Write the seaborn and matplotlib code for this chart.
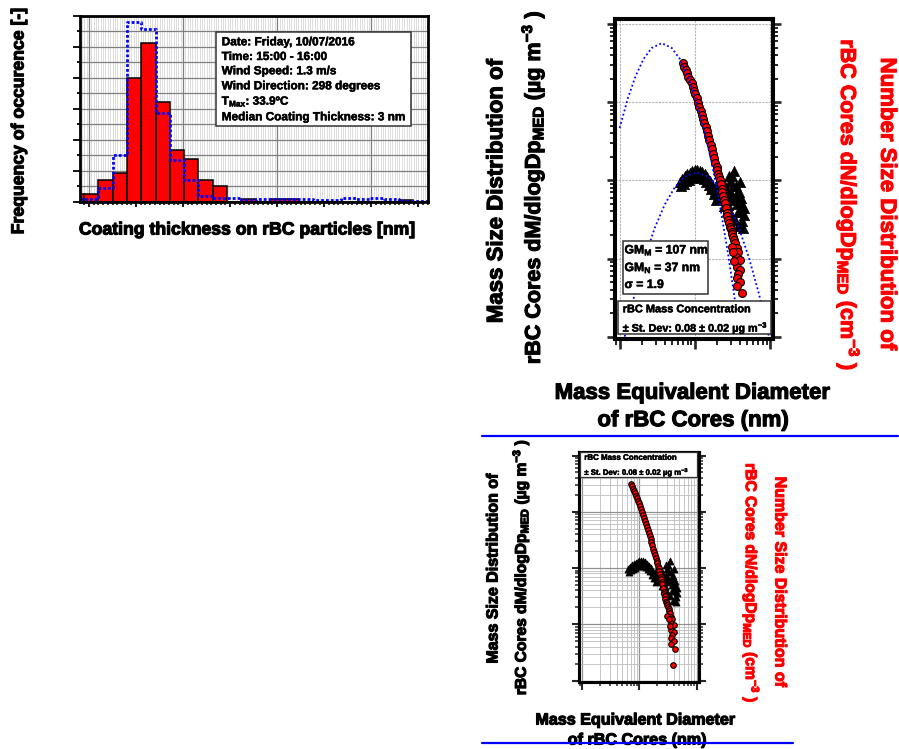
import numpy as np
import matplotlib
matplotlib.use("Agg")
import matplotlib.pyplot as plt
import matplotlib.patheffects as pe
import seaborn as sns
from matplotlib.patches import Rectangle
from matplotlib.lines import Line2D
from matplotlib.ticker import MultipleLocator, LogLocator, NullFormatter

# ---------------- data ----------------
# coating-thickness histogram (pre-binned frequencies)
bin_centers = [-1.29, 0.23, 1.75, 3.27, 4.79, 6.31, 7.83, 9.35, 10.87, 12.39,
               13.91, 15.43, 16.95, 18.47, 19.99, 21.51, 23.03, 24.55, 26.07,
               27.59, 29.11, 30.63, 32.15, 33.67, 35.19]
bin_width = 1.52
freq_red = [0.0047, 0.0047, 0.0138, 0.0183, 0.0797, 0.1026, 0.0644, 0.0336,
            0.0274, 0.0138, 0.0101, 0.0, 0.0018, 0.0, 0.0018, 0.0018, 0.0, 0.0,
            0.0, 0.0, 0.0, 0.0, 0.0, 0.0010, 0.0]
freq_blue = [0.0017, 0.0017, 0.0087, 0.0302, 0.1163, 0.1114, 0.0575, 0.0269,
             0.0140, 0.0039, 0.0022, 0.0026, 0.0011, 0.0017, 0.0015, 0.0015,
             0.0017, 0.0011, 0.0011, 0.0026, 0.0017, 0.0026, 0.0015, 0.0006,
             0.0006]
info_lines = ["Date: Friday, 10/07/2016", "Time: 15:00 - 16:00",
              "Wind Speed: 1.3 m/s", "Wind Direction: 298 degrees",
              r"T$_{Max}$: 33.9ºC", "Median Coating Thickness: 3 nm"]

# number size distribution (red circles): Dp [nm], dN/dlogDp [cm-3]
num_dp = [69.8, 72.66, 75.9, 78.70, 81.9, 86.04, 90.4, 93.47, 97.0, 100.9,
          105.4, 110.0, 114.8, 119.1, 124.0, 128.6, 133.9, 138.9, 144.5, 150.0,
          156.1, 161.9, 168.5, 174.8, 182.0, 188.2, 194.7, 200.1, 205.7, 210.2,
          215.4, 220.8, 227.0, 233.3, 239.9, 245.1, 251.2, 257.5, 264.7, 271.3,
          278.0, 284.9, 292.9, 300.1, 308.6, 316.2, 324.2, 332.0, 341.5, 363.1,
          377.9, 357.5, 398.1, 359.7, 398.1, 374.4, 359.7, 404.3, 363.1, 419.4,
          308.6, 326.2, 336.3, 391.0]
num_dn = [313, 284.0, 257, 233.9, 212, 192.1, 174, 156.4, 141, 125.4,
          112, 98.5, 86.5, 76.95, 68.4, 60.83, 54.1, 48.08, 42.8, 37.44,
          32.8, 28.74, 25.2, 21.93, 19.1, 16.88, 15.0, 13.46, 12.1, 11.05,
          10.1, 8.862, 7.76, 7.007, 6.32, 5.685, 5.10, 4.404, 3.80, 3.449,
          3.12, 2.817, 2.54, 2.36, 2.19, 2.038, 1.89, 1.733, 1.59, 1.37,
          1.22, 1.05, 0.962, 0.790, 0.717, 0.638, 0.562, 0.504, 0.448, 0.361,
          1.42, 1.22, 0.934, 0.189]

# mass size distribution (black triangles): Dp [nm], dM/dlogDp [ug m-3]
mass_dp = [63.1, 68.1, 73.6, 79.4, 85.8, 92.6, 100.0, 108.0, 116.6, 125.9,
           135.9, 146.8, 158.5, 171.1, 184.8, 196.5, 205.7, 215.4, 225.6, 236.3,
           247.4, 259.0, 271.3, 284.0, 297.4, 306.7, 316.2, 326.2, 336.3, 346.7,
           357.5, 368.7, 380.2, 392.0, 404.3, 416.9, 429.9, 443.3, 450.2,
           65.6, 70.8, 76.5, 82.5, 89.1, 96.2, 103.9, 112.2, 121.2, 130.8,
           141.2, 152.5, 164.7, 177.8,
           193.5, 208.9, 232.6, 255.0, 275.4, 302.0, 321.1, 352.1, 374.4, 398.1,
           423.3, 457.1, 288.4]
mass_dm = [0.0954, 0.1042, 0.1122, 0.1190, 0.1243, 0.1299, 0.1338, 0.1358,
           0.1318, 0.1261, 0.1190, 0.1105, 0.0982, 0.0848, 0.0732, 0.0874,
           0.0632, 0.0899, 0.0579, 0.0754, 0.0471, 0.0799, 0.0407, 0.0632,
           0.0954, 0.0372, 0.1138, 0.0562, 0.1318, 0.0312, 0.0848, 0.0500,
           0.0262, 0.0711, 0.0395, 0.0596, 0.0303, 0.0247, 0.0444,
           0.0836, 0.0907, 0.0969, 0.1020, 0.1065, 0.1105, 0.1130, 0.1121,
           0.1081, 0.1027, 0.0962, 0.0875, 0.0767, 0.0662,
           0.0562, 0.0799, 0.1012, 0.0614, 0.0485, 0.0690, 0.0848, 0.0651,
           0.0395, 0.0954, 0.0485, 0.0361, 0.1138]

# lognormal fit curves
fitm_dp = [11.66, 15.85, 21.54, 29.29, 39.81, 54.12, 73.56, 106.3, 153.7,
           208.9, 284.0, 386.1, 524.8, 713.5, 969.8]
fitm_dm = [0.00100, 0.00352, 0.01021, 0.02459, 0.04908, 0.0814, 0.1118, 0.1258,
           0.1118, 0.0814, 0.04908, 0.02459, 0.01021, 0.00352, 0.00100]
fitn_dp = [10.0, 12.79, 16.35, 20.89, 26.71, 36.31, 49.36, 63.10, 80.66, 103.1,
           131.8, 168.5, 215.4, 275.4, 352.1, 398.1]
fitn_dn = [46.7, 110.5, 217.9, 359.3, 493.9, 568.6, 493.9, 359.3, 217.9, 110.5,
           46.7, 16.44, 4.835, 1.183, 0.2423, 0.1021]

# ---------------- style ----------------
sns.set_theme(style="white")
plt.rcParams["font.family"] = ["Liberation Sans", "DejaVu Sans"]
plt.rcParams["font.weight"] = "bold"
plt.rcParams["mathtext.fontset"] = "custom"
plt.rcParams["mathtext.rm"] = "Liberation Sans:bold"
plt.rcParams["mathtext.it"] = "Liberation Sans:bold"
plt.rcParams["mathtext.bf"] = "Liberation Sans:bold"
plt.rcParams["mathtext.sf"] = "Liberation Sans:bold"
plt.rcParams["mathtext.default"] = "rm"

W, H = 899, 749
fig = plt.figure(figsize=(W / 100, H / 100), dpi=100)
fig.patch.set_facecolor("white")


def rect_px(l, t, r, b):
    return [l / W, 1 - b / H, (r - l) / W, (b - t) / H]


def ftxt(x, y, s, size, color="black", rot=0, ha="center", va="center", z=6):
    sw = 0.8 if size >= 11 else 0.35
    fig.text(x / W, 1 - y / H, s, fontsize=size, color=color, rotation=rot,
             ha=ha, va=va, fontweight="bold", zorder=z,
             path_effects=[pe.withStroke(linewidth=sw, foreground=color)])


def fbox(x0, y0, x1, y1, lw=1.1, ec="#333333"):
    fig.add_artist(Rectangle((x0 / W, 1 - y1 / H), (x1 - x0) / W, (y1 - y0) / H,
                             transform=fig.transFigure, facecolor="white",
                             edgecolor=ec, lw=lw, zorder=5))


# ---------------- histogram panel ----------------
axh = fig.add_axes(rect_px(80, 16, 428, 201.7))
edges = [bin_centers[0] - bin_width / 2 + bin_width * i for i in range(len(bin_centers) + 1)]
sns.histplot(x=bin_centers, weights=freq_red, bins=edges, ax=axh, color="#ff0000",
             edgecolor="black", linewidth=1.1, alpha=1.0)
sns.histplot(x=bin_centers, weights=freq_blue, bins=edges, ax=axh, element="step",
             fill=False, color="#0000ff", linewidth=2.0, linestyle=(0, (1, 0.75)))
axh.set_xlim(-0.955, 36.03)
axh.set_ylim(0, 0.12)
axh.set_xlabel("")
axh.set_ylabel("")
axh.set_axisbelow(True)
axh.yaxis.set_major_locator(MultipleLocator(0.02))
axh.yaxis.set_minor_locator(MultipleLocator(0.01))
axh.xaxis.set_major_locator(MultipleLocator(5))
axh.xaxis.set_minor_locator(MultipleLocator(0.5))
axh.grid(True, axis="y", which="both", color="#7f7f7f", lw=0.9)
axh.vlines(np.arange(-0.75, 36.0, 0.25), 0, 1, transform=axh.get_xaxis_transform(),
           colors="#d0d0d0", lw=0.5, zorder=0.3)
axh.vlines([0, 10, 20, 30], 0, 1, transform=axh.get_xaxis_transform(),
           colors="#7f7f7f", lw=0.9, zorder=0.35)
axh.tick_params(axis="both", which="both", direction="out", labelbottom=False,
                labelleft=False, bottom=True, left=True, colors="black")
axh.tick_params(axis="y", which="major", length=4.8, width=1.3)
axh.tick_params(axis="y", which="minor", length=2.4, width=1.3)
axh.tick_params(axis="x", which="major", length=3.6, width=1.3)
axh.tick_params(axis="x", which="minor", length=2.0, width=1.1)
for sp in axh.spines.values():
    sp.set_linewidth(2.0)
    sp.set_color("black")

ftxt(19, 120.6, "Frequency of occurence [-]", 12.7, rot=90)
ftxt(247.5, 230, "Coating thickness on rBC particles [nm]", 12.7)
fbox(216, 32, 411, 126)
for yc, s in zip([42.3, 57, 71.3, 86.3, 100.7, 117.3], info_lines):
    ftxt(221.7, yc, s, 8.5, ha="left")


# ---------------- size distribution panels ----------------
def size_panel(rect, spine_lw, s_tri, s_circ, fits, minor_grid, tl):
    ax = fig.add_axes(rect)
    ax.set_xscale("log")
    ax.set_yscale("log")
    ax2 = ax.twinx()
    ax2.set_yscale("log")
    sns.scatterplot(x=mass_dp, y=mass_dm, ax=ax, marker="^", s=s_tri, color="black",
                    edgecolor="black", linewidth=0.5, legend=False, zorder=3)
    if fits:
        sns.lineplot(x=fitm_dp, y=fitm_dm, ax=ax, color="#0000ff", linewidth=1.3,
                     linestyle=(0, (1, 1.4)), estimator=None, sort=False, zorder=4)
    sns.scatterplot(x=num_dp, y=num_dn, ax=ax2, marker="o", s=s_circ, color="#ff0000",
                    edgecolor="black", linewidth=0.8, legend=False, zorder=3)
    if fits:
        sns.lineplot(x=fitn_dp, y=fitn_dn, ax=ax2, color="#0000ff", linewidth=1.3,
                     linestyle=(0, (1, 1.4)), estimator=None, sort=False, zorder=4)
    ax.set_xlim(10 ** 0.942, 10 ** 3.036)
    ax.set_ylim(10 ** -3.026, 10 ** 1.068)
    ax2.set_ylim(10 ** -1.026, 10 ** 3.068)
    for a in (ax, ax2):
        a.set_xlabel("")
        a.set_ylabel("")
        for sp in a.spines.values():
            sp.set_linewidth(spine_lw)
            sp.set_color("black")
    for axis in (ax.xaxis, ax.yaxis, ax2.yaxis):
        axis.set_major_locator(LogLocator(base=10, numticks=20))
        axis.set_minor_locator(LogLocator(base=10, subs=np.arange(2, 10), numticks=100))
        axis.set_major_formatter(NullFormatter())
        axis.set_minor_formatter(NullFormatter())
    ax.tick_params(axis="y", which="major", direction="out", length=tl[0], width=tl[1],
                   left=True, right=False)
    ax.tick_params(axis="y", which="minor", direction="out", length=tl[2], width=tl[3],
                   left=True, right=False)
    ax.tick_params(axis="x", which="major", direction="out", length=tl[0] * 1.2,
                   width=tl[1], bottom=True, top=False)
    ax.tick_params(axis="x", which="minor", direction="out", length=tl[2] * 1.1,
                   width=tl[3], bottom=True, top=False)
    ax2.tick_params(axis="y", which="major", direction="out", length=tl[0], width=tl[1],
                    right=True, left=False)
    ax2.tick_params(axis="y", which="minor", direction="out", length=tl[2], width=tl[3],
                    right=True, left=False)
    if minor_grid:
        ax.grid(True, which="major", color="#909090", lw=0.9)
        ax.grid(True, which="minor", color="#bdbdbd", lw=0.6)
    else:
        ax.grid(True, which="major", color="#b5b5b5", lw=0.8, linestyle=(0, (2, 1)))
    ax.set_axisbelow(True)
    return ax, ax2


size_panel(rect_px(615.3, 18.7, 772.7, 338.7), 2.9, 55, 32, True, False,
           (5.8, 1.9, 3.6, 1.4))
size_panel(rect_px(579, 451.7, 698.7, 682), 2.2, 26, 16, False, True,
           (5.0, 1.5, 2.9, 1.1))

# top panel labels
ftxt(496.7, 191.5, "Mass Size Distribution of", 16, rot=90)
ftxt(533, 187.5, r"rBC Cores dM/dlogDp$_{MED}$ (µg m$^{-3}$ )", 15.5, rot=90)
ftxt(886.7, 203.5, "Number Size Distribution of", 16, color="#ff0000", rot=270)
ftxt(848, 205, r"rBC Cores dN/dlogDp$_{MED}$ (cm$^{-3}$ )", 15.5, color="#ff0000", rot=270)
ftxt(692, 393.3, "Mass Equivalent Diameter", 16)
ftxt(693, 420.7, "of rBC Cores (nm)", 16)

fbox(623, 241, 708, 294)
for yc, s in zip([250, 267.7, 285], [r"GM$_{M}$ = 107 nm", r"GM$_{N}$ = 37 nm", "σ = 1.9"]):
    ftxt(624.5, yc, s, 8.8, ha="left")
fbox(618, 301, 771, 334)
ftxt(622.7, 309.3, "rBC Mass Concentration", 7.9, ha="left")
ftxt(622.7, 327.7, r"± St. Dev: 0.08 ± 0.02 µg m$^{-3}$", 7.8, ha="left")

# bottom panel labels
ftxt(493, 568, "Mass Size Distribution of", 11.5, rot=90)
ftxt(520, 567.5, r"rBC Cores dM/dlogDp$_{MED}$ (µg m$^{-3}$ )", 11.2, rot=90)
ftxt(780, 582.5, "Number Size Distribution of", 11.5, color="#ff0000", rot=270)
ftxt(751.7, 583, r"rBC Cores dN/dlogDp$_{MED}$ (cm$^{-3}$ )", 11.2, color="#ff0000", rot=270)
ftxt(635.5, 720, "Mass Equivalent Diameter", 11.6)
ftxt(637, 740, "of rBC Cores (nm)", 11.6)

fbox(580, 452, 696.7, 477.3, lw=0.9)
ftxt(584.3, 458.3, "rBC Mass Concentration", 5.7, ha="left")
ftxt(584.3, 472.7, r"± St. Dev: 0.08 ± 0.02 µg m$^{-3}$", 5.6, ha="left")

# blue separator lines
fig.add_artist(Line2D([482 / W, 898 / W], [1 - 436 / H] * 2, color="#0000ff", lw=1.6,
                      transform=fig.transFigure, zorder=10))
fig.add_artist(Line2D([482 / W, 793 / W], [1 - 743.3 / H] * 2, color="#0000ff", lw=1.6,
                      transform=fig.transFigure, zorder=10))

fig.savefig("out.png", dpi=100, facecolor="white")
